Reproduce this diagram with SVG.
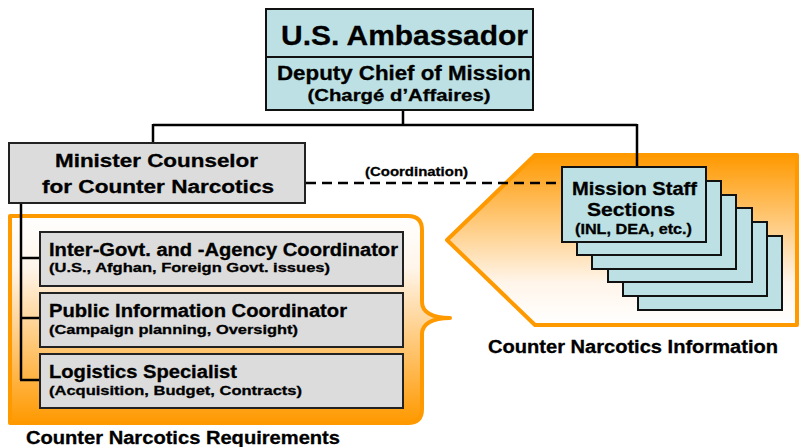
<svg xmlns="http://www.w3.org/2000/svg" width="799" height="447" viewBox="0 0 799 447">
<defs>
<linearGradient id="gL" x1="0" y1="0" x2="0" y2="1">
<stop offset="0" stop-color="#FFFFFF"/>
<stop offset="0.25" stop-color="#FFF5EA"/>
<stop offset="1" stop-color="#FF9900"/>
</linearGradient>
<linearGradient id="gR" x1="0" y1="0" x2="0" y2="1">
<stop offset="0" stop-color="#FF9900"/>
<stop offset="0.75" stop-color="#FFF5EA"/>
<stop offset="1" stop-color="#FFFFFF"/>
</linearGradient>
<style>
text{font-family:"Liberation Sans",Arial,sans-serif;font-weight:bold;fill:#000;stroke:#000;stroke-width:0.3}
.blue{fill:#BCE0E3;stroke:#111;stroke-width:2}
.gray{fill:#DCDCDC;stroke:#222;stroke-width:2}
.orange{stroke:#FF9900;stroke-width:4;stroke-linejoin:round}
.con{stroke:#000;stroke-width:2.5;fill:none}
.t1{font-size:17.5px}
.t2{font-size:13.5px}
</style>
</defs>
<rect width="799" height="447" fill="#FFFFFF"/>

<g id="cn-requirements-area">
<path class="orange" fill="url(#gL)" d="M 10 216 H 408 Q 422 216 422 230 V 302 C 422 312 432 318 450 318 C 432 318 422 324 422 334 V 409 Q 422 423 408 423 H 10 Z"/>
<text x="26" y="444" class="t1" textLength="314" lengthAdjust="spacingAndGlyphs">Counter Narcotics Requirements</text>
</g>

<g id="cn-information-area">
<path class="orange" fill="url(#gR)" d="M 447 240 L 535 155 H 797 V 325 H 535 Z"/>
<text x="488" y="353" class="t1" textLength="290" lengthAdjust="spacingAndGlyphs">Counter Narcotics Information</text>
</g>

<g id="connectors">
<path class="con" d="M 403 110 V 125 M 153 125 H 637 M 153 124 V 143 M 637 124 V 167"/>
<path class="con" d="M 21 203 V 380 M 20 258 H 40 M 20 318 H 40 M 20 380 H 40"/>
<path class="con" stroke-dasharray="10 6" d="M 306 183 H 562"/>
<text x="416.5" y="176" class="t2" text-anchor="middle" textLength="103" lengthAdjust="spacingAndGlyphs">(Coordination)</text>
</g>

<g id="ambassador">
<rect class="blue" x="266" y="9" width="267" height="101"/>
<line x1="266" y1="57" x2="533" y2="57" stroke="#111" stroke-width="2"/>
<text x="404.5" y="45" font-size="28" text-anchor="middle" textLength="247" lengthAdjust="spacingAndGlyphs">U.S. Ambassador</text>
<text x="404" y="80" font-size="20" text-anchor="middle" textLength="254" lengthAdjust="spacingAndGlyphs">Deputy Chief of Mission</text>
<text x="399" y="101" font-size="17" text-anchor="middle" textLength="183" lengthAdjust="spacingAndGlyphs">(Chargé d’Affaires)</text>
</g>

<g id="minister-counselor">
<rect class="gray" x="9" y="143" width="296" height="60"/>
<text x="156.5" y="167" font-size="18" text-anchor="middle" textLength="203" lengthAdjust="spacingAndGlyphs">Minister Counselor</text>
<text x="158" y="193" font-size="18" text-anchor="middle" textLength="232" lengthAdjust="spacingAndGlyphs">for Counter Narcotics</text>
</g>

<g id="inter-govt-coordinator">
<rect class="gray" x="40" y="232" width="363" height="54"/>
<text x="49" y="256" class="t1" textLength="349" lengthAdjust="spacingAndGlyphs">Inter-Govt. and -Agency Coordinator</text>
<text x="49" y="272" class="t2" textLength="281" lengthAdjust="spacingAndGlyphs">(U.S., Afghan, Foreign Govt. issues)</text>
</g>

<g id="public-information-coordinator">
<rect class="gray" x="40" y="293" width="363" height="54"/>
<text x="49" y="317" class="t1" textLength="298" lengthAdjust="spacingAndGlyphs">Public Information Coordinator</text>
<text x="49" y="334" class="t2" textLength="249" lengthAdjust="spacingAndGlyphs">(Campaign planning, Oversight)</text>
</g>

<g id="logistics-specialist">
<rect class="gray" x="40" y="354" width="363" height="54"/>
<text x="49" y="378" class="t1" textLength="188" lengthAdjust="spacingAndGlyphs">Logistics Specialist</text>
<text x="49" y="395" class="t2" textLength="253" lengthAdjust="spacingAndGlyphs">(Acquisition, Budget, Contracts)</text>
</g>

<g id="mission-staff-sections">
<rect class="blue" x="638" y="236" width="144" height="74"/>
<rect class="blue" x="623" y="222" width="144" height="74"/>
<rect class="blue" x="608" y="208" width="144" height="74"/>
<rect class="blue" x="592" y="195" width="144" height="74"/>
<rect class="blue" x="577" y="181" width="144" height="74"/>
<rect class="blue" x="562" y="167" width="144" height="75"/>
<text x="634.5" y="195" font-size="18" text-anchor="middle" textLength="125" lengthAdjust="spacingAndGlyphs">Mission Staff</text>
<text x="631" y="216" font-size="18" text-anchor="middle" textLength="88" lengthAdjust="spacingAndGlyphs">Sections</text>
<text x="633.5" y="234" font-size="14" text-anchor="middle" textLength="117" lengthAdjust="spacingAndGlyphs">(INL, DEA, etc.)</text>
</g>
</svg>
